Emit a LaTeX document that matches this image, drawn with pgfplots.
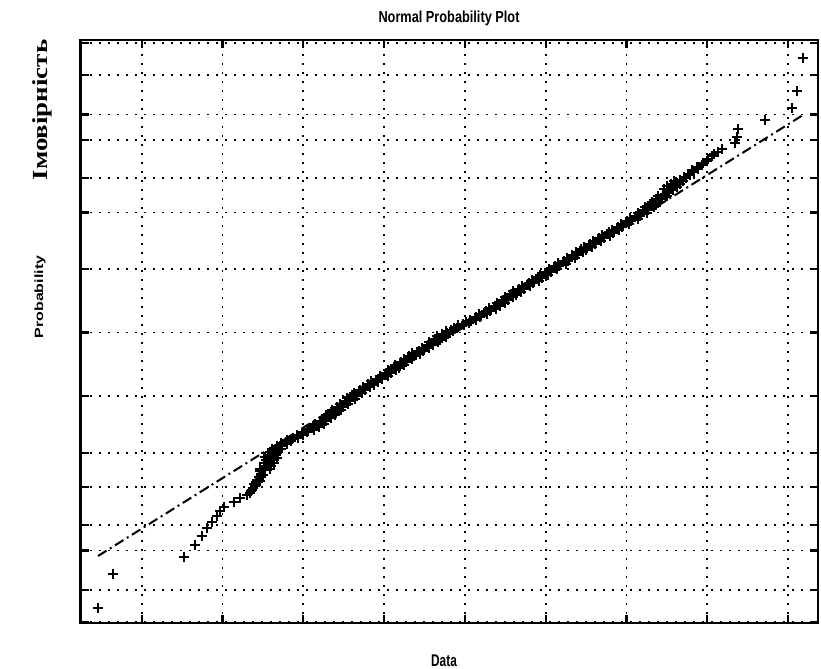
\documentclass[border=0pt]{standalone}
\usepackage{fontspec}
\setmainfont{Liberation Serif}
\setsansfont{Liberation Sans}
\usepackage{pgfplots}
\pgfplotsset{compat=1.18}
\begin{document}
\begin{tikzpicture}
\path[use as bounding box] (-40.35bp,-23bp) rectangle (370.15bp,311.5bp);
\begin{axis}[
 at={(0,0)}, anchor=south west,
 width=368.65bp, height=291.5bp, scale only axis,
 xmin=0.245, xmax=9.37, ymin=-3.10, ymax=3.122,
 xtick={1,2,3,4,5,6,7,8,9},
 ytick={-3.0902,-2.7478,-2.3263,-2.0537,-1.6449,-1.2816,-0.6745,0,0.6745,1.2816,1.6449,2.0537,2.3263,2.7478,3.0902},
 xticklabels={}, yticklabels={},
 tick align=inside, major tick length=4bp,
 grid=major,
 major grid style={black, line width=0.9bp, dash pattern=on 0.9bp off 3.6bp},
 axis line style={line width=1.2bp},
 every tick/.style={black, line width=1.1bp},
 clip=false,
]
\addplot[only marks, mark=+, mark size=2.5bp, mark options={line width=1bp, black}] coordinates {
(0.459,-2.935) (0.641,-2.576) (1.524,-2.394) (1.660,-2.268) (1.743,-2.170)
(1.804,-2.090) (1.870,-2.020) (1.926,-1.960) (1.969,-1.906) (2.019,-1.857)
(2.142,-1.812) (2.217,-1.770) (2.303,-1.732) (2.353,-1.695) (2.377,-1.661)
(2.402,-1.628) (2.415,-1.598) (2.427,-1.569) (2.452,-1.541) (2.476,-1.514)
(2.36,-1.68) (2.40,-1.64) (2.44,-1.60) (2.45,-1.57) (2.48,-1.545) (2.50,-1.52)
(2.34,-1.71) (2.39,-1.615) (2.46,-1.585)
(2.52,-1.47) (2.53,-1.44) (2.57,-1.41) (2.57,-1.38) (2.60,-1.35) (2.59,-1.32)
(2.62,-1.29) (2.65,-1.26) (2.67,-1.23) (2.73,-1.20) (2.78,-1.17) (2.86,-1.14)
(2.93,-1.11) (2.98,-1.08) (3.06,-1.05) (3.12,-1.02) (3.18,-0.99) (3.21,-0.96)
(3.27,-0.93) (3.32,-0.90) (3.34,-0.87) (3.40,-0.84) (3.42,-0.81) (3.48,-0.78)
(3.51,-0.75) (3.57,-0.72) (3.60,-0.69) (3.66,-0.66) (3.69,-0.63) (3.76,-0.60)
(3.80,-0.57) (3.86,-0.54) (3.90,-0.51) (3.98,-0.48) (4.01,-0.45) (4.08,-0.42)
(4.11,-0.39) (4.18,-0.36) (4.20,-0.33) (4.27,-0.30) (4.30,-0.27) (4.37,-0.24)
(4.41,-0.21) (4.49,-0.18) (4.53,-0.15) (4.60,-0.12) (4.62,-0.09) (4.69,-0.06)
(4.72,-0.03) (4.78,0.00) (4.83,0.03) (4.92,0.06) (4.98,0.09) (5.07,0.12)
(5.12,0.15) (5.20,0.18) (5.24,0.21) (5.32,0.24) (5.36,0.27) (5.43,0.30)
(5.46,0.33) (5.53,0.36) (5.56,0.39) (5.63,0.42) (5.66,0.45) (5.73,0.48)
(5.77,0.51) (5.85,0.54) (5.89,0.57) (5.96,0.60) (5.99,0.63) (6.07,0.66)
(6.10,0.69) (6.18,0.72) (6.21,0.75) (6.29,0.78) (6.32,0.81) (6.39,0.84)
(6.43,0.87) (6.50,0.90) (6.54,0.93) (6.61,0.96) (6.65,0.99) (6.72,1.02)
(6.76,1.05) (6.84,1.08) (6.88,1.11) (6.96,1.14) (6.99,1.17) (7.07,1.20)
(7.10,1.23) (7.18,1.26) (7.20,1.29) (7.27,1.32) (7.29,1.35) (7.35,1.38)
(7.37,1.41) (7.43,1.44) (7.45,1.47)
(2.59,-1.455) (2.60,-1.425) (2.64,-1.395) (2.64,-1.365) (2.67,-1.335) (2.66,-1.305)
(2.69,-1.275) (2.72,-1.245) (2.74,-1.215) (2.80,-1.185) (2.85,-1.155) (2.93,-1.125)
(3.00,-1.095) (3.05,-1.065) (3.13,-1.035) (3.19,-1.005) (3.25,-0.975) (3.28,-0.945)
(3.34,-0.915) (3.39,-0.885) (3.41,-0.855) (3.47,-0.825) (3.49,-0.795) (3.55,-0.765)
(3.58,-0.735) (3.64,-0.705) (3.67,-0.675) (3.73,-0.645) (3.76,-0.615) (3.83,-0.585)
(3.87,-0.555) (3.93,-0.525) (3.97,-0.495) (4.05,-0.465) (4.08,-0.435) (4.15,-0.405)
(4.18,-0.375) (4.25,-0.345) (4.27,-0.315) (4.34,-0.285) (4.37,-0.255) (4.44,-0.225)
(4.48,-0.195) (4.56,-0.165) (4.60,-0.135) (4.67,-0.105) (4.69,-0.075) (4.76,-0.045)
(4.79,-0.015) (4.85,0.015) (4.90,0.045) (4.99,0.075) (5.05,0.105) (5.14,0.135)
(5.19,0.165) (5.27,0.195) (5.31,0.225) (5.39,0.255) (5.43,0.285) (5.50,0.315)
(5.53,0.345) (5.60,0.375) (5.63,0.405) (5.70,0.435) (5.73,0.465) (5.80,0.495)
(5.84,0.525) (5.92,0.555) (5.96,0.585) (6.03,0.615) (6.06,0.645) (6.14,0.675)
(6.17,0.705) (6.25,0.735) (6.28,0.765) (6.36,0.795) (6.39,0.825) (6.46,0.855)
(6.50,0.885) (6.57,0.915) (6.61,0.945) (6.68,0.975) (6.72,1.005) (6.79,1.035)
(6.83,1.065) (6.91,1.095) (6.95,1.125) (7.03,1.155) (7.06,1.185) (7.14,1.215)
(7.17,1.245) (7.25,1.275) (7.27,1.305) (7.34,1.335) (7.36,1.365) (7.42,1.395)
(7.44,1.425) (7.50,1.455) (7.52,1.485)
(2.46,-1.482) (2.47,-1.452) (2.51,-1.422) (2.51,-1.392) (2.54,-1.362) (2.53,-1.332)
(2.56,-1.302) (2.59,-1.272) (2.61,-1.242) (2.67,-1.212) (2.72,-1.182) (2.80,-1.152)
(2.87,-1.122) (2.92,-1.092) (3.00,-1.062) (3.06,-1.032) (3.12,-1.002) (3.15,-0.972)
(3.21,-0.942) (3.26,-0.912) (3.28,-0.882) (3.34,-0.852) (3.36,-0.822) (3.42,-0.792)
(3.45,-0.762) (3.51,-0.732) (3.54,-0.702) (3.60,-0.672) (3.63,-0.642) (3.70,-0.612)
(3.74,-0.582) (3.80,-0.552) (3.84,-0.522) (3.92,-0.492) (3.95,-0.462) (4.02,-0.432)
(4.05,-0.402) (4.12,-0.372) (4.14,-0.342) (4.21,-0.312) (4.24,-0.282) (4.31,-0.252)
(4.35,-0.222) (4.43,-0.192) (4.47,-0.162) (4.54,-0.132) (4.56,-0.102) (4.63,-0.072)
(4.66,-0.042) (4.72,-0.012) (4.77,0.018) (4.86,0.048) (4.92,0.078) (5.01,0.108)
(5.06,0.138) (5.14,0.168) (5.18,0.198) (5.26,0.228) (5.30,0.258) (5.37,0.288)
(5.40,0.318) (5.47,0.348) (5.50,0.378) (5.57,0.408) (5.60,0.438) (5.67,0.468)
(5.71,0.498) (5.79,0.528) (5.83,0.558) (5.90,0.588) (5.93,0.618) (6.01,0.648)
(6.04,0.678) (6.12,0.708) (6.15,0.738) (6.23,0.768) (6.26,0.798) (6.33,0.828)
(6.37,0.858) (6.44,0.888) (6.48,0.918) (6.55,0.948) (6.59,0.978) (6.66,1.008)
(6.70,1.038) (6.78,1.068) (6.82,1.098) (6.90,1.128) (6.93,1.158) (7.01,1.188)
(7.04,1.218) (7.12,1.248) (7.14,1.278) (7.21,1.308) (7.23,1.338) (7.29,1.368)
(7.31,1.398) (7.37,1.428) (7.39,1.458)
(7.514,1.514) (7.551,1.541) (7.588,1.569) (7.625,1.598) (7.662,1.628)
(7.712,1.661) (7.761,1.695) (7.811,1.732) (7.873,1.770) (7.947,1.812)
(8.009,1.857) (8.083,1.906) (8.182,1.960) (8.343,2.020) (8.368,2.090)
(8.384,2.170) (8.714,2.268) (9.045,2.394) (9.114,2.576) (9.188,2.935)
(7.58,1.525) (7.62,1.555) (7.66,1.585) (7.70,1.615) (7.74,1.645) (7.78,1.68)
(7.83,1.715) (7.88,1.75) (7.93,1.79) (7.99,1.835) (8.06,1.88) (8.13,1.93)
(7.46,1.53) (7.50,1.56) (7.55,1.59) (7.59,1.62)
};
\addplot[black, line width=1bp, dash pattern=on 5bp off 2bp on 1bp off 2bp] coordinates {(0.459,-2.385) (9.184,2.321)};
\end{axis}
\node[font=\sffamily\fontsize{8}{9}\selectfont\bfseries] at (184.15bp,302.5bp) {\scalebox{0.8}[1]{Normal Probability Plot}};
\node[font=\sffamily\fontsize{8.5}{9}\selectfont\bfseries] at (181.65bp,-19bp) {\scalebox{0.7}[1]{Data}};
\node[font=\sffamily\fontsize{8}{9}\selectfont\bfseries, rotate=90] at (-20.35bp,163bp) {\scalebox{1}[0.75]{Probability}};
\node[font=\rmfamily\fontsize{13.5}{14}\selectfont\bfseries, rotate=90] at (-19.35bp,256.5bp) {\scalebox{1}[0.8]{Імовірність}};
\end{tikzpicture}
\end{document}
